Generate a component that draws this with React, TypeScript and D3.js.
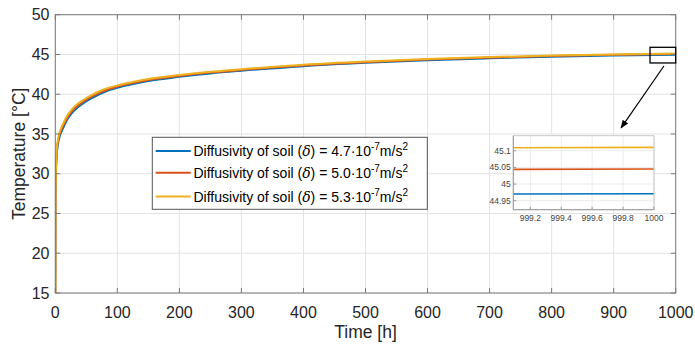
import React from "react";
import * as d3 from "d3";

const times = [0, 0.3, 1, 2, 4, 8, 13, 20, 30, 45, 60, 80, 100, 150, 200, 250, 300, 400, 500, 600, 700, 800, 900, 1000];
const blueSeries = [15, 27.2, 30.1, 32.0, 33.6, 34.9, 35.8, 36.9, 37.9, 38.85, 39.55, 40.3, 40.8, 41.66, 42.18, 42.61, 42.95, 43.53, 43.95, 44.28, 44.52, 44.72, 44.87, 44.97];
const orangeSeries = [15, 27.5, 30.4, 32.3, 33.9, 35.2, 36.1, 37.15, 38.15, 39.05, 39.75, 40.47, 40.95, 41.79, 42.3, 42.72, 43.05, 43.62, 44.03, 44.36, 44.6, 44.8, 44.95, 45.044];
const yellowSeries = [15, 27.8, 30.7, 32.6, 34.2, 35.45, 36.35, 37.4, 38.38, 39.27, 39.95, 40.65, 41.1, 41.92, 42.42, 42.83, 43.15, 43.71, 44.11, 44.43, 44.67, 44.86, 45.01, 45.109];

const insetTimes = [999.09, 1000];
const insetBlue = [44.97, 44.971];
const insetOrange = [45.044, 45.045];
const insetYellow = [45.109, 45.11];

const xTicks = [0, 100, 200, 300, 400, 500, 600, 700, 800, 900, 1000];
const yTicks = [15, 20, 25, 30, 35, 40, 45, 50];
const insetXTicks = [999.2, 999.4, 999.6, 999.8, 1000];
const insetYTicks = [44.95, 45, 45.05, 45.1];
const legendValues = ["4.7", "5.0", "5.3"];
const seriesColors = ["#0072BD", "#D95319", "#EDB120"];

const zoomBox = { t0: 958.6, t1: 1000, T0: 43.93, T1: 45.9 };
const arrow = { t0: 981, T0: 43.55, t1: 912, T1: 35.76 };

const font = "'Liberation Sans', Arial, Helvetica, sans-serif";
const textColor = "#262626";
const axisColor = "#7a7a7a";
const gridColor = "#e3e3e3";

export default function App() {
  const x = d3.scaleLinear().domain([0, 1000]).range([55.3, 675.7]);
  const y = d3.scaleLinear().domain([15, 50]).range([293, 14.7]);
  const [x0, x1] = x.range();
  const [yb, yt] = y.range();

  const series = [blueSeries, orangeSeries, yellowSeries];
  const line = d3
    .line<number>()
    .x((_, i) => x(times[i]))
    .y((d) => y(d))
    .curve(d3.curveMonotoneX);

  const ix = d3.scaleLinear().domain([999.09, 1000]).range([513.3, 654]);
  const iy = d3.scaleLinear().domain([44.923, 45.145]).range([209.7, 135.7]);
  const insetSeries = [insetBlue, insetOrange, insetYellow];
  const iline = d3
    .line<number>()
    .x((_, i) => ix(insetTimes[i]))
    .y((d) => iy(d));

  const lgX0 = 152.3, lgX1 = 427.3, lgY0 = 137.3, lgY1 = 209.3;
  const rowY = [151, 172.8, 196.5];

  const ax0 = x(arrow.t0), ay0 = y(arrow.T0), ax1 = x(arrow.t1), ay1 = y(arrow.T1);

  return (
    <svg width={695} height={345} style={{ position: "absolute", left: 0, top: 0, background: "#fff" }} fontFamily={font}>
      <defs>
        <marker id="ah" viewBox="0 0 10 10" refX="9" refY="5" markerWidth="7" markerHeight="7" orient="auto">
          <path d="M0,1 L10,5 L0,9 z" fill="#000" />
        </marker>
        <clipPath id="mainClip">
          <rect x={x0} y={yt} width={x1 - x0} height={yb - yt} />
        </clipPath>
      </defs>
      <rect x={0} y={0} width={695} height={345} fill="#fff" />
      {/* grid */}
      {xTicks.map((t) => (
        <line key={"gx" + t} x1={x(t)} x2={x(t)} y1={yb} y2={yt} stroke={gridColor} strokeWidth={1} />
      ))}
      {yTicks.map((t) => (
        <line key={"gy" + t} x1={x0} x2={x1} y1={y(t)} y2={y(t)} stroke={gridColor} strokeWidth={1} />
      ))}
      {/* curves */}
      <g clipPath="url(#mainClip)">
        {series.map((s, i) => (
          <path key={"s" + i} d={line(s) || ""} fill="none" stroke={seriesColors[i]} strokeWidth={2} />
        ))}
      </g>
      {/* axes box */}
      <rect x={x0} y={yt} width={x1 - x0} height={yb - yt} fill="none" stroke={axisColor} strokeWidth={1} />
      {xTicks.map((t) => (
        <g key={"tx" + t}>
          <line x1={x(t)} x2={x(t)} y1={yb} y2={yb - 5} stroke={axisColor} />
          <line x1={x(t)} x2={x(t)} y1={yt} y2={yt + 5} stroke={axisColor} />
          <text x={x(t)} y={317.5} textAnchor="middle" fontSize={16} fill={textColor}>
            {t}
          </text>
        </g>
      ))}
      {yTicks.map((t) => (
        <g key={"ty" + t}>
          <line x1={x0} x2={x0 + 5} y1={y(t)} y2={y(t)} stroke={axisColor} />
          <line x1={x1} x2={x1 - 5} y1={y(t)} y2={y(t)} stroke={axisColor} />
          <text x={49.5} y={y(t) + 5.6} textAnchor="end" fontSize={16} fill={textColor}>
            {t}
          </text>
        </g>
      ))}
      <text x={x(500)} y={338} textAnchor="middle" fontSize={17.5} fill={textColor}>
        Time [h]
      </text>
      <text transform={`translate(25,${y(32.5)}) rotate(-90)`} textAnchor="middle" fontSize={17.5} fill={textColor}>
        Temperature [°C]
      </text>

      {/* legend */}
      <rect x={lgX0} y={lgY0} width={lgX1 - lgX0} height={lgY1 - lgY0} fill="#fff" stroke="#555" strokeWidth={1} />
      {legendValues.map((v, i) => (
        <g key={"lg" + i}>
          <line x1={155.7} x2={190.7} y1={rowY[i]} y2={rowY[i]} stroke={seriesColors[i]} strokeWidth={2} />
          <text x={193.5} y={rowY[i] + 5} fontSize={14} fill="#000">
            {"Diffusivity of soil ("}
            <tspan fontFamily="'DejaVu Serif', 'Liberation Serif', serif" fontStyle="italic">δ</tspan>
            {") = " + v + "·10"}
            <tspan dy={-6} fontSize={10}>-7</tspan>
            <tspan dy={6}>m/s</tspan>
            <tspan dy={-6} fontSize={10}>2</tspan>
          </text>
        </g>
      ))}

      {/* zoom rectangle and arrow */}
      <rect
        x={x(zoomBox.t0)}
        y={y(zoomBox.T1)}
        width={x(zoomBox.t1) - x(zoomBox.t0)}
        height={y(zoomBox.T0) - y(zoomBox.T1)}
        fill="none"
        stroke="#000"
        strokeWidth={1.3}
      />
      <line x1={ax0} y1={ay0} x2={ax1} y2={ay1} stroke="#000" strokeWidth={1.2} markerEnd="url(#ah)" />

      {/* inset */}
      <g>
        <rect x={ix.range()[0]} y={iy.range()[1]} width={ix.range()[1] - ix.range()[0]} height={iy.range()[0] - iy.range()[1]} fill="#fff" />
        {insetXTicks.map((t) => (
          <line key={"igx" + t} x1={ix(t)} x2={ix(t)} y1={iy.range()[0]} y2={iy.range()[1]} stroke="#ececec" />
        ))}
        {insetYTicks.map((t) => (
          <line key={"igy" + t} x1={ix.range()[0]} x2={ix.range()[1]} y1={iy(t)} y2={iy(t)} stroke="#ececec" />
        ))}
        {insetSeries.map((s, i) => (
          <path key={"is" + i} d={iline(s) || ""} fill="none" stroke={seriesColors[i]} strokeWidth={1.6} />
        ))}
        <rect x={ix.range()[0]} y={iy.range()[1]} width={ix.range()[1] - ix.range()[0]} height={iy.range()[0] - iy.range()[1]} fill="none" stroke="#c8c8c8" />
        <line x1={ix.range()[0]} x2={ix.range()[0]} y1={iy.range()[0]} y2={iy.range()[1]} stroke="#9a9a9a" />
        <line x1={ix.range()[0]} x2={ix.range()[1]} y1={iy.range()[0]} y2={iy.range()[0]} stroke="#9a9a9a" />
        {insetXTicks.map((t) => (
          <g key={"itx" + t}>
            <line x1={ix(t)} x2={ix(t)} y1={iy.range()[0]} y2={iy.range()[0] - 3} stroke="#9a9a9a" />
            <text x={ix(t)} y={220.5} textAnchor="middle" fontSize={8.5} fill="#444">
              {t}
            </text>
          </g>
        ))}
        {insetYTicks.map((t) => (
          <g key={"ity" + t}>
            <line x1={ix.range()[0]} x2={ix.range()[0] + 3} y1={iy(t)} y2={iy(t)} stroke="#9a9a9a" />
            <text x={ix.range()[0] - 2.5} y={iy(t) + 3} textAnchor="end" fontSize={8.5} fill="#444">
              {t}
            </text>
          </g>
        ))}
      </g>
    </svg>
  );
}
